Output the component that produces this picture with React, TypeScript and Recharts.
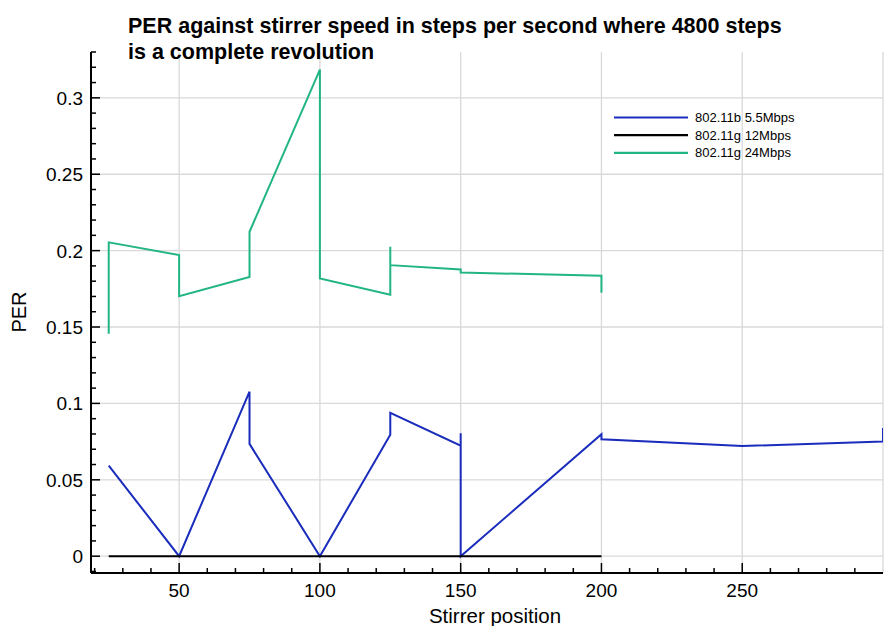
import React from "react";
import { LineChart, Line, XAxis, YAxis, ReferenceLine, Legend } from "recharts";

const FONT = "'Liberation Sans', Arial, Helvetica, sans-serif";

// Series 1: 802.11b 5.5Mbps
const blueX = [25, 50, 75, 75, 100, 125, 125, 150, 150, 150, 200, 200, 250, 300, 300];
const blueY = [0.0593, 0, 0.1077, 0.0735, 0, 0.0795, 0.0939, 0.0723, 0.0804, 0, 0.0798, 0.0765, 0.0721, 0.075, 0.0839];

// Series 2: 802.11g 12Mbps
const blackX = [25, 50, 75, 100, 125, 150, 200];
const blackY = [0, 0, 0, 0, 0, 0, 0];

// Series 3: 802.11g 24Mbps
const greenX = [25, 25, 50, 50, 75, 75, 100, 100, 125, 125, 125, 150, 150, 200, 200];
const greenY = [0.1456, 0.2054, 0.1971, 0.1702, 0.1827, 0.2123, 0.3185, 0.1818, 0.1711, 0.2025, 0.1905, 0.1877, 0.1857, 0.1835, 0.1724];

const seriesNames = ["802.11b 5.5Mbps", "802.11g 12Mbps", "802.11g 24Mbps"];
const seriesColors = ["#1a2cbc", "#000000", "#22b584"];

const xMajorTicks = [50, 100, 150, 200, 250];
const xGridLines = [50, 100, 150, 200, 250, 300];
const yMajorTicks = [0, 0.05, 0.1, 0.15, 0.2, 0.25, 0.3];
const xAllTicks = Array.from({ length: 28 }, (_, i) => 20 + i * 10);
const yAllTicks = Array.from({ length: 35 }, (_, i) => Number(((i - 1) / 100).toFixed(2)));

const toRows = (xs: number[], ys: number[]) => xs.map((x, i) => ({ x, y: ys[i] }));
const blueData = toRows(blueX, blueY);
const blackData = toRows(blackX, blackY);
const greenData = toRows(greenX, greenY);

const isMajorY = (v: number) => yMajorTicks.some((m) => Math.abs(m - v) < 1e-9);
const fmtY = (v: number) => String(Number(v.toFixed(2)));

const XTick = (props: any) => {
  const { x, y, payload } = props;
  const v = payload.value;
  const major = xMajorTicks.includes(v);
  return (
    <g>
      <line x1={x} y1={y} x2={x} y2={y - (major ? 10 : 5)} stroke="#000" strokeWidth={1.5} />
      {major && (
        <text x={x} y={y + 24} textAnchor="middle" fontSize={19} fontFamily={FONT} fill="#000">
          {v}
        </text>
      )}
    </g>
  );
};

const YTick = (props: any) => {
  const { x, y, payload } = props;
  const v = payload.value;
  const major = isMajorY(v);
  return (
    <g>
      <line x1={x} y1={y} x2={x + (major ? 9 : 5)} y2={y} stroke="#000" strokeWidth={1.5} />
      {major && (
        <text x={x - 8} y={y + 7} textAnchor="end" fontSize={19} fontFamily={FONT} fill="#000">
          {fmtY(v)}
        </text>
      )}
    </g>
  );
};

const LegendContent = (props: any) => {
  const payload = props.payload || [];
  return (
    <svg width={220} height={60} style={{ overflow: "visible", display: "block" }}>
      {payload.map((p: any, i: number) => (
        <g key={i}>
          <line x1={4} x2={78} y1={9.5 + i * 17.7} y2={9.5 + i * 17.7} stroke={p.color} strokeWidth={2.2} />
          <text x={85} y={14 + i * 17.7} fontSize={13} fontFamily={FONT} fill="#000">
            {p.value}
          </text>
        </g>
      ))}
    </svg>
  );
};

export default function App() {
  return (
    <div style={{ position: "absolute", left: 0, top: 0, width: 884, height: 626, background: "#fff" }}>
      <LineChart width={884} height={626} margin={{ top: 52, right: 1, left: 0, bottom: 0 }}>
        {yMajorTicks.map((v) => (
          <ReferenceLine key={"gy" + v} y={v} stroke="#d9d9d9" strokeWidth={1.3} />
        ))}
        {xGridLines.map((v) => (
          <ReferenceLine key={"gx" + v} x={v} stroke="#d9d9d9" strokeWidth={1.3} />
        ))}
        <XAxis
          type="number"
          dataKey="x"
          domain={[18.7, 300]}
          allowDataOverflow
          ticks={xAllTicks}
          interval={0}
          tick={<XTick />}
          tickLine={false}
          tickSize={0}
          tickMargin={0}
          height={53}
          axisLine={{ stroke: "#000", strokeWidth: 2 }}
          label={({ viewBox }: any) => (
            <text
              x={495}
              y={viewBox.y + 50}
              textAnchor="middle"
              fontSize={20.5}
              fontFamily={FONT}
              fill="#000"
            >
              Stirrer position
            </text>
          )}
        />
        <YAxis
          type="number"
          dataKey="y"
          domain={[-0.011, 0.33]}
          allowDataOverflow
          ticks={yAllTicks}
          interval={0}
          tick={<YTick />}
          tickLine={false}
          tickSize={0}
          tickMargin={0}
          width={91}
          axisLine={{ stroke: "#000", strokeWidth: 2 }}
          label={() => (
            <text
              x={25.5}
              y={312}
              textAnchor="middle"
              fontSize={20}
              fontFamily={FONT}
              fill="#000"
              transform={`rotate(-90, 25.5, 312)`}
            >
              PER
            </text>
          )}
        />
        <Legend
          layout="vertical"
          verticalAlign="middle"
          align="center"
          content={<LegendContent />}
          wrapperStyle={{ position: "absolute", left: 610, top: 108, width: 220, height: 60 }}
        />
        <Line
          data={blueData}
          dataKey="y"
          name={seriesNames[0]}
          stroke={seriesColors[0]}
          strokeWidth={2}
          dot={false}
          isAnimationActive={false}
        />
        <Line
          data={blackData}
          dataKey="y"
          name={seriesNames[1]}
          stroke={seriesColors[1]}
          strokeWidth={2}
          dot={false}
          isAnimationActive={false}
        />
        <Line
          data={greenData}
          dataKey="y"
          name={seriesNames[2]}
          stroke={seriesColors[2]}
          strokeWidth={2}
          dot={false}
          isAnimationActive={false}
        />
      </LineChart>
      <svg
        width={884}
        height={70}
        style={{ position: "absolute", left: 0, top: 0, pointerEvents: "none" }}
      >
        <text x={128} y={33.3} fontSize={21.5} fontWeight="bold" fontFamily={FONT} fill="#000">
          PER against stirrer speed in steps per second where 4800 steps
        </text>
        <text x={128} y={59.3} fontSize={21.5} fontWeight="bold" fontFamily={FONT} fill="#000">
          is a complete revolution
        </text>
      </svg>
    </div>
  );
}
